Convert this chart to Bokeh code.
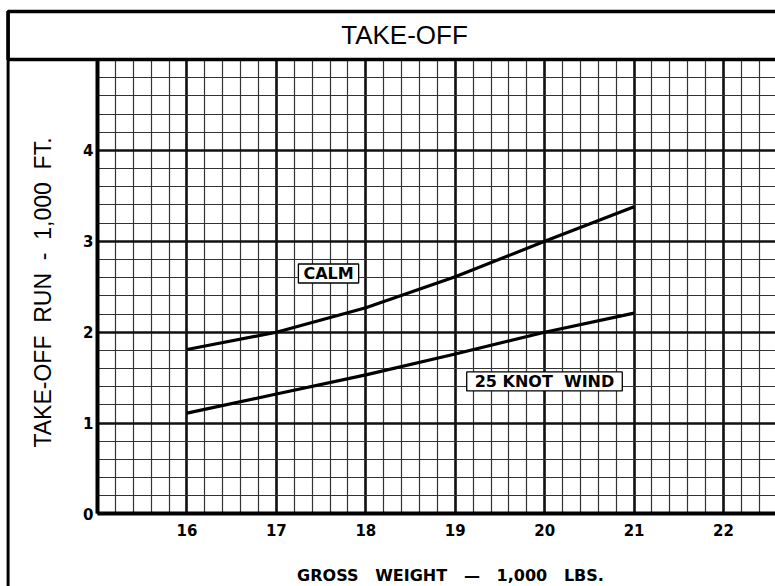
import numpy as np
from math import pi
from bokeh.plotting import figure
from bokeh.models import Range1d, FixedTicker, SingleIntervalTicker, Label, BoxAnnotation, Grid
from bokeh.embed import file_html
from bokeh.resources import INLINE

# ---- data ----
weights = [16, 17, 18, 19, 20, 21]                 # gross weight, 1,000 lbs
calm_run = [1.81, 2.00, 2.27, 2.61, 3.00, 3.38]    # take-off run, 1,000 ft (calm)
wind25_run = [1.11, 1.32, 1.53, 1.76, 2.00, 2.21]  # take-off run, 1,000 ft (25 knot wind)
x_ticks = [16, 17, 18, 19, 20, 21, 22]
y_ticks = [0, 1, 2, 3, 4]
series_names = ["CALM", "25 KNOT\u00a0\u00a0WIND"]
chart_title = "TAKE-OFF"
NB2 = "\u00a0\u00a0"
NB3 = "\u00a0\u00a0\u00a0"
x_title = "GROSS" + NB3 + "WEIGHT" + NB3 + "\u2014" + NB3 + "1,000" + NB3 + "LBS."
y_title = "TAKE-OFF" + NB2 + "RUN" + NB2 + "-" + NB2 + "1,000" + NB2 + "FT."

# graph area: x 15..(right edge), y 0..5 ; the frame also holds the border and title box
X0, X1 = 13.971, 22.581
Y0, Y1 = -0.798, 5.562
GX0, GX1, GY0, GY1 = 15, X1, 0, 5

p = figure(width=775, height=586, output_backend="svg", toolbar_location=None, title=None,
           x_range=Range1d(X0, X1), y_range=Range1d(Y0, Y1),
           min_border_left=5, min_border_top=8, min_border_bottom=0, min_border_right=0,
           background_fill_color="white", border_fill_color="white")
p.outline_line_color = None

# axes drawn at the edges of the graph paper
p.xaxis.fixed_location = GY0
p.xaxis.bounds = (GX0, GX1)
p.yaxis.fixed_location = GX0
p.yaxis.bounds = (GY0, GY1)
p.xaxis.ticker = FixedTicker(ticks=x_ticks)
p.yaxis.ticker = FixedTicker(ticks=y_ticks)
for ax in (p.xaxis, p.yaxis):
    ax.axis_line_color = "black"
    ax.axis_line_width = 4
    ax.major_tick_line_color = None
    ax.minor_tick_line_color = None
    ax.major_tick_out = 0
    ax.major_tick_in = 0
    ax.minor_tick_out = 0
    ax.major_label_text_font = "DejaVu Sans"
    ax.major_label_text_font_style = "bold"
    ax.major_label_text_font_size = "15px"
    ax.major_label_text_color = "black"
p.xaxis.major_label_standoff = 10
p.yaxis.major_label_standoff = 4

# graph-paper grid
grid_major = dict(color="#111111", width=2.6)
grid_minor = dict(color="#333333", width=1.2)
if "cross_bounds" in Grid.properties():
    p.xgrid.ticker = SingleIntervalTicker(interval=1, num_minor_ticks=5)
    p.ygrid.ticker = SingleIntervalTicker(interval=1, num_minor_ticks=5)
    p.xgrid.bounds = (GX0, GX1)
    p.xgrid.cross_bounds = (GY0, GY1)
    p.ygrid.bounds = (GY0, GY1)
    p.ygrid.cross_bounds = (GX0, GX1)
    p.grid.grid_line_color = grid_major["color"]
    p.grid.grid_line_width = grid_major["width"]
    p.grid.minor_grid_line_color = grid_minor["color"]
    p.grid.minor_grid_line_width = grid_minor["width"]
else:
    p.grid.visible = False
    xv = np.round(np.arange(GX0, GX1, 0.2), 1)
    yv = np.round(np.arange(GY0, GY1 + 0.01, 0.2), 1)
    xmin = xv[np.abs(xv - np.round(xv)) > 1e-6]
    xmaj = xv[np.abs(xv - np.round(xv)) <= 1e-6]
    ymin = yv[np.abs(yv - np.round(yv)) > 1e-6]
    ymaj = yv[np.abs(yv - np.round(yv)) <= 1e-6]
    p.segment(x0=xmin, y0=GY0, x1=xmin, y1=GY1, line_color=grid_minor["color"], line_width=grid_minor["width"])
    p.segment(x0=GX0, y0=ymin, x1=GX1, y1=ymin, line_color=grid_minor["color"], line_width=grid_minor["width"])
    p.segment(x0=xmaj, y0=GY0, x1=xmaj, y1=GY1, line_color=grid_major["color"], line_width=grid_major["width"])
    p.segment(x0=GX0, y0=ymaj, x1=GX1, y1=ymaj, line_color=grid_major["color"], line_width=grid_major["width"])

# curves
p.line(weights, calm_run, line_color="black", line_width=3.2)
p.line(weights, wind25_run, line_color="black", line_width=3.2)

# curve labels
for txt, lx, ly, pad in ((series_names[0], 17.583, 2.646, (5, 0)), (series_names[1], 19.998, 1.458, (8, 0))):
    p.add_layout(Label(x=lx, y=ly, text=txt, text_align="center", text_baseline="middle",
                       text_font="DejaVu Sans", text_font_style="bold", text_font_size="16px",
                       text_color="black", background_fill_color="white",
                       border_line_color="black", border_line_width=1.3, padding=pad))

# outer frame and title box
p.add_layout(BoxAnnotation(left=14.0, right=X1 + 1, bottom=Y0 - 1, top=5.529,
                           fill_alpha=0, line_color="black", line_alpha=1.0, line_width=3))
p.add_layout(BoxAnnotation(left=14.0, right=X1 + 1, bottom=GY1, top=5.529,
                           fill_alpha=0, line_color="black", line_alpha=1.0, line_width=3.5))
p.add_layout(Label(x=18.433, y=5.265, text=chart_title, text_align="center", text_baseline="middle",
                   text_font="Liberation Sans", text_font_size="26px", text_color="black"))

# axis titles
p.add_layout(Label(x=18.947, y=-0.677, text=x_title, text_align="center", text_baseline="middle",
                   text_font="DejaVu Sans", text_font_style="bold", text_font_size="16px",
                   text_color="black"))
p.add_layout(Label(x=14.385, y=2.437, text=y_title, angle=pi / 2, text_align="center",
                   text_baseline="middle", text_font="Liberation Sans", text_font_size="23px",
                   text_color="black"))

open("out.html", "w").write(file_html(p, INLINE))
